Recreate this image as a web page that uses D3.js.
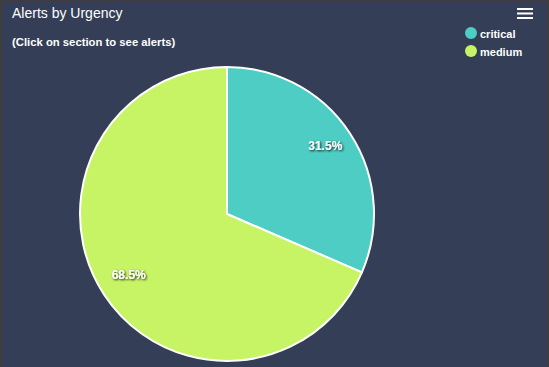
<!DOCTYPE html>
<html>
<head>
<meta charset="utf-8">
<script src="https://cdn.jsdelivr.net/npm/d3@7"></script>
<style>
  body { margin: 0; background: #3d3d3d; }
  svg { display: block; font-family: "Liberation Sans", Arial, sans-serif; }
</style>
</head>
<body>
<svg width="549" height="367"></svg>
<script>
const categories = ["critical", "medium"]
const values = [31.5, 68.5]
const colors = ["#4ecdc4", "#c7f464"]

let svg = d3.select("svg"),
    width = +svg.attr("width"),
    height = +svg.attr("height")

let defs = svg.append("defs")
let f = defs.append("filter").attr("id", "shadow")
  .attr("x", "-20%").attr("y", "-20%").attr("width", "140%").attr("height", "160%")
f.append("feDropShadow")
  .attr("dx", 1).attr("dy", 1).attr("stdDeviation", 0.8)
  .attr("flood-color", "#000").attr("flood-opacity", 0.9)

// frame
svg.append("rect").attr("width", width).attr("height", height).attr("fill", "#3e3e3e")
svg.append("rect").attr("x", 2).attr("y", 2).attr("width", width - 4).attr("height", height - 2)
  .attr("fill", "#343e56")

svg.append("text").attr("x", 12).attr("y", 18)
  .attr("fill", "#ffffff").style("font-size", "14px")
  .text("Alerts by Urgency")
svg.append("text").attr("x", 12).attr("y", 46)
  .attr("fill", "#ffffff").style("font-size", "11.3px").style("font-weight", "bold")
  .text("(Click on section to see alerts)")

// menu icon
let menu = svg.append("g")
;[9, 13.5, 18].forEach(y => {
  menu.append("rect").attr("x", 517).attr("y", y - 1).attr("width", 16).attr("height", 2).attr("fill", "#ffffff")
})

// legend
let legend = svg.append("g").selectAll("g")
  .data(categories)
  .enter().append("g")
  .attr("transform", (d, i) => `translate(471,${33 + i * 18})`)
legend.append("circle").attr("r", 6).attr("fill", (d, i) => colors[i])
legend.append("text").attr("x", 9).attr("y", 4.5)
  .attr("fill", "#ffffff").style("font-size", "11px").style("font-weight", "bold")
  .text(d => d)

// pie
let cx = 227, cy = 214, r = 147
let pie = d3.pie().sort(null)
let arcs = pie(values)
let arc = d3.arc().innerRadius(0).outerRadius(r)
let labelArc = d3.arc().innerRadius(r * 0.8).outerRadius(r * 0.8)

let g = svg.append("g").attr("transform", `translate(${cx},${cy})`)
g.selectAll("path")
  .data(arcs)
  .enter().append("path")
  .attr("d", arc)
  .attr("fill", (d, i) => colors[i])
  .attr("stroke", "#ffffff")
  .attr("stroke-width", 2)
  .attr("stroke-linejoin", "round")

g.selectAll("text")
  .data(arcs)
  .enter().append("text")
  .attr("transform", d => `translate(${labelArc.centroid(d)})`)
  .attr("text-anchor", "middle")
  .attr("dy", "0.02em")
  .attr("fill", "#ffffff")
  .attr("filter", "url(#shadow)")
  .style("font-size", "12px").style("font-weight", "bold")
  .text(d => d.data.toFixed(1) + "%")
</script>
</body>
</html>
